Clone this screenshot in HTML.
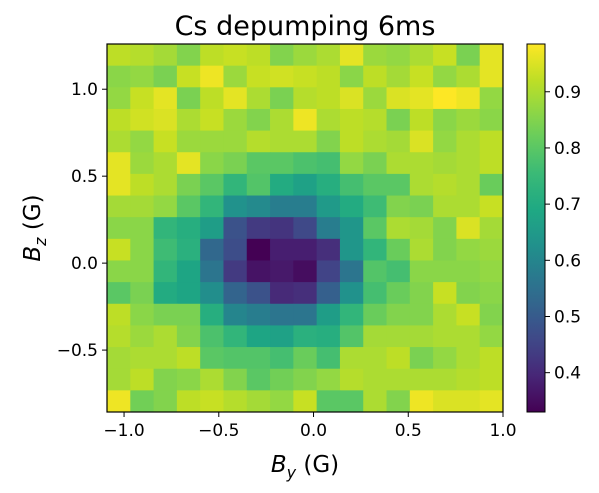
<!DOCTYPE html>
<html><head><meta charset="utf-8"><style>
body{margin:0;background:#fff;}
svg{display:block;font-family:"DejaVu Sans","Liberation Sans",sans-serif;}
</style></head><body>
<svg id="chart" width="599" height="493">
<text x="305" y="35" font-size="27" text-anchor="middle">Cs depumping 6ms</text>
<g id="cells"></g>
<rect x="107" y="44" width="396" height="368" fill="none" stroke="#000" stroke-width="1.2"/>
<g id="xticks"></g>
<g id="yticks"></g>
<text x="305" y="472" font-size="23" text-anchor="middle"><tspan font-style="italic">B</tspan><tspan font-style="italic" font-size="16" dy="6">y</tspan><tspan dy="-6"> (G)</tspan></text>
<text transform="translate(40,228) rotate(-90)" font-size="23" text-anchor="middle"><tspan font-style="italic">B</tspan><tspan font-style="italic" font-size="16" dy="6">z</tspan><tspan dy="-6"> (G)</tspan></text>
<defs><linearGradient id="cbg" x1="0" y1="1" x2="0" y2="0"></linearGradient></defs>
<g id="cbar"></g>
</svg>
<script>
const xTicks=[-1.0,-0.5,0.0,0.5,1.0];
const xTickLabels=["\u22121.0","\u22120.5","0.0","0.5","1.0"];
const yTicks=[1.0,0.5,0.0,-0.5];
const yTickLabels=["1.0","0.5","0.0","\u22120.5"];
const cbTicks=[0.9,0.8,0.7,0.6,0.5,0.4];
const cbTickLabels=["0.9","0.8","0.7","0.6","0.5","0.4"];
const xExtent=[-1.09,1.0];
const yExtent=[-0.856,1.26];
const vRange=[0.33,0.985];
const row0=[0.92,0.91,0.89,0.85,0.92,0.93,0.92,0.85,0.88,0.90,0.96,0.88,0.87,0.90,0.93,0.84,0.96];
const row1=[0.86,0.87,0.84,0.93,0.97,0.88,0.93,0.94,0.93,0.92,0.86,0.92,0.89,0.93,0.87,0.90,0.96];
const row2=[0.87,0.93,0.96,0.84,0.92,0.96,0.90,0.84,0.91,0.92,0.95,0.88,0.95,0.96,0.99,0.97,0.87];
const row3=[0.92,0.94,0.95,0.90,0.93,0.88,0.85,0.90,0.97,0.90,0.92,0.91,0.84,0.92,0.86,0.88,0.86];
const row4=[0.90,0.87,0.93,0.88,0.88,0.88,0.91,0.90,0.90,0.85,0.92,0.90,0.89,0.95,0.87,0.90,0.92];
const row5=[0.96,0.88,0.90,0.96,0.86,0.84,0.80,0.80,0.78,0.77,0.87,0.84,0.90,0.90,0.89,0.90,0.92];
const row6=[0.96,0.92,0.90,0.84,0.80,0.74,0.79,0.70,0.67,0.71,0.77,0.80,0.80,0.90,0.91,0.90,0.82];
const row7=[0.89,0.89,0.87,0.80,0.74,0.63,0.61,0.58,0.58,0.65,0.70,0.76,0.85,0.84,0.90,0.90,0.93];
const row8=[0.86,0.86,0.74,0.71,0.66,0.48,0.43,0.42,0.46,0.58,0.64,0.80,0.90,0.89,0.85,0.95,0.89];
const row9=[0.93,0.86,0.76,0.72,0.53,0.47,0.32,0.38,0.38,0.41,0.64,0.74,0.82,0.90,0.85,0.87,0.88];
const row10=[0.86,0.86,0.74,0.68,0.56,0.43,0.36,0.37,0.35,0.45,0.56,0.79,0.77,0.86,0.86,0.86,0.87];
const row11=[0.80,0.84,0.70,0.68,0.62,0.52,0.48,0.40,0.41,0.51,0.63,0.77,0.82,0.85,0.93,0.85,0.86];
const row12=[0.92,0.86,0.84,0.84,0.71,0.60,0.58,0.56,0.56,0.66,0.74,0.82,0.85,0.85,0.90,0.93,0.85];
const row13=[0.91,0.88,0.90,0.85,0.78,0.74,0.68,0.67,0.72,0.71,0.79,0.89,0.89,0.89,0.90,0.90,0.87];
const row14=[0.89,0.90,0.90,0.92,0.80,0.79,0.79,0.77,0.82,0.77,0.90,0.90,0.92,0.84,0.87,0.90,0.92];
const row15=[0.89,0.92,0.85,0.86,0.90,0.85,0.80,0.83,0.85,0.87,0.91,0.90,0.90,0.90,0.90,0.91,0.92];
const row16=[0.97,0.83,0.85,0.92,0.93,0.91,0.89,0.87,0.93,0.80,0.80,0.90,0.85,0.97,0.95,0.95,0.96];
const rows=[row0,row1,row2,row3,row4,row5,row6,row7,row8,row9,row10,row11,row12,row13,row14,row15,row16];

const PL=107,PR=503,PT=44,PB=412;
const xs=v=>PL+(v-xExtent[0])/(xExtent[1]-xExtent[0])*(PR-PL);
const ys=v=>PB-(v-yExtent[0])/(yExtent[1]-yExtent[0])*(PB-PT);
const VIR=[[68,1,84],[72,36,117],[65,68,135],[53,95,141],[42,120,142],[33,145,140],[30,168,131],[53,183,121],[94,201,98],[143,215,69],[194,223,35],[253,231,37]];
function viridis(t){t=Math.max(0,Math.min(1,t));const p=t*(VIR.length-1),i=Math.min(VIR.length-2,Math.floor(p)),f=p-i;
const c=VIR[i].map((a,k)=>Math.round(a+(VIR[i+1][k]-a)*f));return `rgb(${c[0]},${c[1]},${c[2]})`;}
const NS="http://www.w3.org/2000/svg";
function mk(tag,attrs,parent){const e=document.createElementNS(NS,tag);for(const k in attrs)e.setAttribute(k,attrs[k]);parent.appendChild(e);return e;}
const cells=document.getElementById('cells');
const nR=rows.length,nC=row0.length;
const cw=(xExtent[1]-xExtent[0])/nC, ch=(yExtent[1]-yExtent[0])/nR;
rows.forEach((r,ri)=>r.forEach((v,ci)=>{
  const x0=xs(xExtent[0]+ci*cw),x1=xs(xExtent[0]+(ci+1)*cw);
  const y0=ys(yExtent[1]-ri*ch),y1=ys(yExtent[1]-(ri+1)*ch);
  const e=mk('rect',{x:x0,y:y0,width:x1-x0+0.5,height:y1-y0+0.5,fill:viridis((v-vRange[0])/(vRange[1]-vRange[0]))},cells);
  
  
}));
const xt=document.getElementById('xticks');
xTicks.forEach((v,i)=>{const x=xs(v);
  mk('line',{x1:x,x2:x,y1:PB,y2:PB+5,stroke:'#000'},xt);
  const t=mk('text',{x:x,y:PB+24,'font-size':17,'text-anchor':'middle'},xt);t.textContent=xTickLabels[i];
  
  });
const yt=document.getElementById('yticks');
yTicks.forEach((v,i)=>{const y=ys(v);
  mk('line',{x1:PL-5,x2:PL,y1:y,y2:y,stroke:'#000'},yt);
  const t=mk('text',{x:PL-9,y:y+6,'font-size':17,'text-anchor':'end'},yt);t.textContent=yTickLabels[i];
  
  });
const cb=document.getElementById('cbar');
const CL=527,CR=545;
const cby=v=>PB-(v-vRange[0])/(vRange[1]-vRange[0])*(PB-PT);
const g=document.getElementById('cbg');
for(let i=0;i<=20;i++){mk('stop',{offset:(i/20),'stop-color':viridis(i/20)},g);}
mk('rect',{x:CL,y:PT,width:CR-CL,height:PB-PT,fill:'url(#cbg)',stroke:'#000','stroke-width':1},cb);
cbTicks.forEach((v,i)=>{const y=cby(v);
  mk('line',{x1:CR,x2:CR+5,y1:y,y2:y,stroke:'#000'},cb);
  const t=mk('text',{x:CR+9,y:y+6,'font-size':17},cb);t.textContent=cbTickLabels[i];
  
  });
</script>
</body></html>
